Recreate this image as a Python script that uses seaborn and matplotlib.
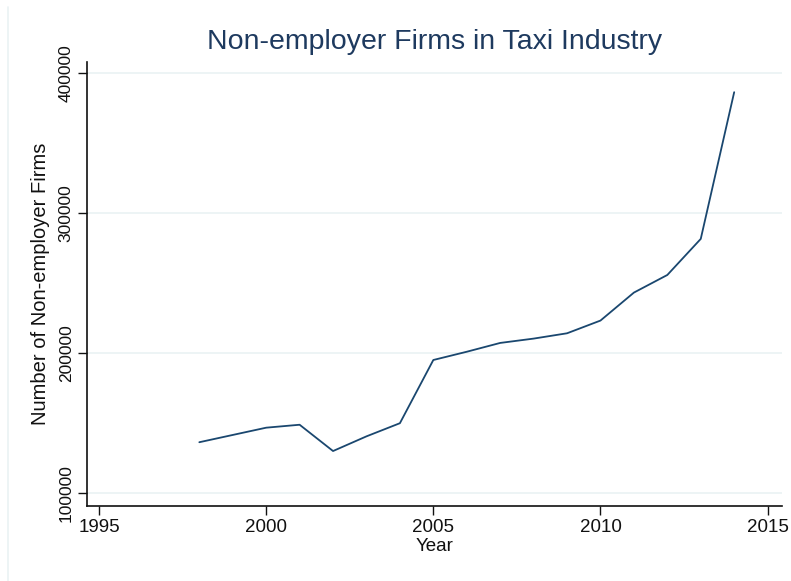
import matplotlib
matplotlib.use("Agg")
import matplotlib.pyplot as plt
from matplotlib.lines import Line2D
import pandas as pd
import seaborn as sns

# Non-employer taxi firms by year
years = [1998, 1999, 2000, 2001, 2002, 2003, 2004, 2005, 2006, 2007,
         2008, 2009, 2010, 2011, 2012, 2013, 2014]
firms = [136300, 141500, 146700, 148800, 130000, 140500, 149900, 195100,
         201000, 207300, 210400, 214200, 223300, 243300, 255900, 281700,
         386600]

x_ticks = [1995, 2000, 2005, 2010, 2015]
y_ticks = [100000, 200000, 300000, 400000]

df = pd.DataFrame({"Year": years, "Firms": firms})

sns.set_style("white")
plt.rcParams["font.family"] = ["Liberation Sans", "DejaVu Sans"]

navy = "#1a476f"
grid_col = "#eaf2f3"

fig = plt.figure(figsize=(7.91, 5.81), dpi=100)
ax = fig.add_axes([0.110, 0.1291, 0.8786, 0.7642])

sns.lineplot(data=df, x="Year", y="Firms", ax=ax, color=navy, linewidth=1.3)

ax.set_xlim(1994.64, 2015.43)
ax.set_ylim(90700, 408200)
ax.set_xticks(x_ticks)
ax.set_yticks(y_ticks)
ax.set_xticklabels([str(t) for t in x_ticks], fontsize=13.5)
ax.set_yticklabels([str(t) for t in y_ticks], fontsize=12.5, rotation=90,
                   va="center")

ax.yaxis.grid(True, color=grid_col, linewidth=1.2)
ax.xaxis.grid(False)
ax.set_axisbelow(True)

for side in ("top", "right"):
    ax.spines[side].set_visible(False)
for side in ("left", "bottom"):
    ax.spines[side].set_color("#111111")
    ax.spines[side].set_linewidth(1.2)

ax.tick_params(axis="both", direction="out", length=6.5, width=1.0,
               color="#111111", labelcolor="#111111", pad=3,
               left=True, bottom=True)

ax.set_xlabel("Year", fontsize=13.5, labelpad=1, color="#111111")
ax.set_ylabel("Number of Non-employer Firms", fontsize=14.5, labelpad=6,
              color="#111111")
ax.set_title("Non-employer Firms in Taxi Industry", fontsize=20.5,
             color="#1e3a5f", pad=9)

# faint graph-region edge on the left
fig.add_artist(Line2D([8 / 791, 8 / 791], [0, 1 - 7 / 581],
                      transform=fig.transFigure, color=grid_col, linewidth=1.2))

fig.savefig("out.png", dpi=100, facecolor="white")
